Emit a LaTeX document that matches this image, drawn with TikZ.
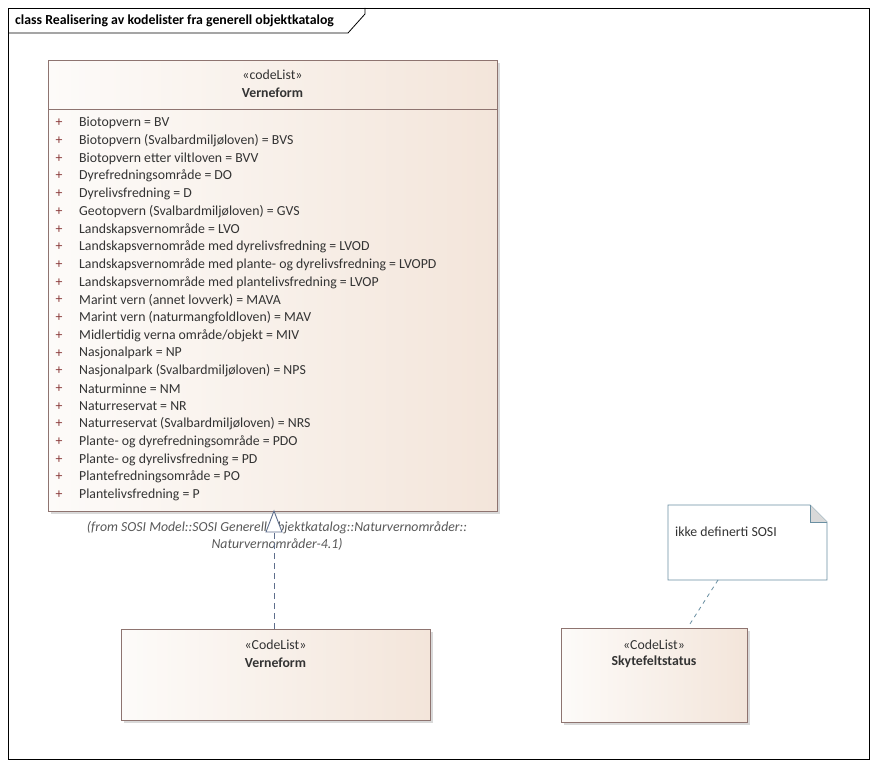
\documentclass[tikz,border=0pt]{standalone}
\usepackage{fontspec}
\setmainfont{Carlito}
\usetikzlibrary{arrows.meta,shapes.misc}
\definecolor{boxline}{HTML}{8E7470}
\definecolor{boxleft}{HTML}{FDFBF9}
\definecolor{boxright}{HTML}{F3E5DA}
\definecolor{linkcol}{HTML}{5E6E8C}
\definecolor{notecol}{HTML}{6A8FA2}
\definecolor{txt}{HTML}{333333}
\definecolor{plus}{HTML}{8A3A3A}
\tikzset{
  classbox/.style={draw=boxline, line width=0.8pt, left color=boxleft, right color=boxright, shading angle=90, anchor=north west, inner sep=0pt},
  attr/.style={anchor=west, inner sep=0pt, text=txt, font=\fontsize{13.8}{16}\selectfont},
  plusmark/.style={anchor=west, inner sep=0pt, text=plus, font=\fontsize{13.8}{16}\selectfont},
  stereo/.style={inner sep=0pt, text=txt, font=\fontsize{13.8}{16}\selectfont},
  cname/.style={inner sep=0pt, text=txt, font=\bfseries\fontsize{13.8}{16}\selectfont},
  fromtxt/.style={inner sep=0pt, text=black!65, font=\itshape\fontsize{13.8}{17}\selectfont, align=center},
}
\begin{document}
\begin{tikzpicture}[x=1pt,y=-1pt]
\useasboundingbox (0,0) rectangle (877,767);
\fill[white] (0,0) rectangle (877,767);
% frame
\draw[black, line width=0.8pt] (8,8) rectangle (869,759);
\draw[black, line width=0.8pt] (8,33) -- (348,33) -- (365,14) -- (365,8);
\node[anchor=west, inner sep=0pt, font=\bfseries\fontsize{13.8}{16}\selectfont] (title) at (15,21) {class Realisering av kodelister fra generell objektkatalog};

% big class
\fill[black!15] (51,63) rectangle (500,514);
\node[classbox, minimum width=449pt, minimum height=451pt] (big) at (48,60) {};
\draw[boxline, line width=0.8pt] (48,109) -- (497,109);
\node[stereo] (bigst) at (272.5,75) {«codeList»};
\node[cname] (bigname) at (272.5,93) {Verneform};
\foreach [count=\i from 0] \t in {
Biotopvern = BV,
Biotopvern (Svalbardmiljøloven) = BVS,
Biotopvern etter viltloven = BVV,
Dyrefredningsområde = DO,
Dyrelivsfredning = D,
Geotopvern (Svalbardmiljøloven) = GVS,
Landskapsvernområde = LVO,
Landskapsvernområde med dyrelivsfredning = LVOD,
Landskapsvernområde med plante- og dyrelivsfredning = LVOPD,
Landskapsvernområde med plantelivsfredning = LVOP,
Marint vern (annet lovverk) = MAVA,
Marint vern (naturmangfoldloven) = MAV,
Midlertidig verna område/objekt = MIV,
Nasjonalpark = NP,
Nasjonalpark (Svalbardmiljøloven) = NPS,
Naturminne = NM,
Naturreservat = NR,
Naturreservat (Svalbardmiljøloven) = NRS,
Plante- og dyrefredningsområde = PDO,
Plante- og dyrelivsfredning = PD,
Plantefredningsområde = PO,
Plantelivsfredning = P}
{
  \node[plusmark] (p\i) at (55.5,{123+17.71*\i}) {+};
  \node[attr] (a\i) at (79,{123+17.71*\i}) {\t};
}

% from text
\node[fromtxt] (from) at (277,535.5) {(from SOSI Model::SOSI Generell objektkatalog::Naturvernområder::\\Naturvernområder-4.1)};

% lower Verneform
\fill[black!15] (124,632) rectangle (433,723);
\node[classbox, minimum width=309pt, minimum height=91pt] (vf) at (121,629) {};
\node[stereo] (vfst) at (275.5,645) {«CodeList»};
\node[cname] (vfname) at (275.5,663) {Verneform};

% realization
\coordinate (tip) at (274,511);
\draw[linkcol, line width=0.8pt, dashed, dash pattern=on 6pt off 4pt] (vf.north -| tip) -- (274,532);
\draw[linkcol, line width=0.9pt, fill=white] (tip) -- (266,532) -- (282,532) -- cycle;

% Skytefeltstatus
\fill[black!15] (564,631) rectangle (750,725);
\node[classbox, minimum width=186pt, minimum height=94pt] (sk) at (561,628) {};
\node[stereo] (skst) at (654,645) {«CodeList»};
\node[cname] (skname) at (654,662) {Skytefeltstatus};

% note
\draw[notecol, line width=0.8pt, fill=white] (668,505) -- (810,505) -- (827,522) -- (827,580) -- (668,580) -- cycle;
\fill[black!15] (810,505) -- (827,522) -- (810,522) -- cycle;
\draw[notecol, line width=0.8pt] (810,505) -- (810,522) -- (827,522);
\node[anchor=west, inner sep=0pt, text=txt, font=\fontsize{13.8}{16}\selectfont] (note) at (675,532) {ikke definerti SOSI};
\coordinate (nb) at (718,580);
\coordinate (sb) at (688,627);
\draw[notecol, line width=0.8pt, dashed, dash pattern=on 4pt off 4pt] (nb) -- (sb);
\end{tikzpicture}
\end{document}
